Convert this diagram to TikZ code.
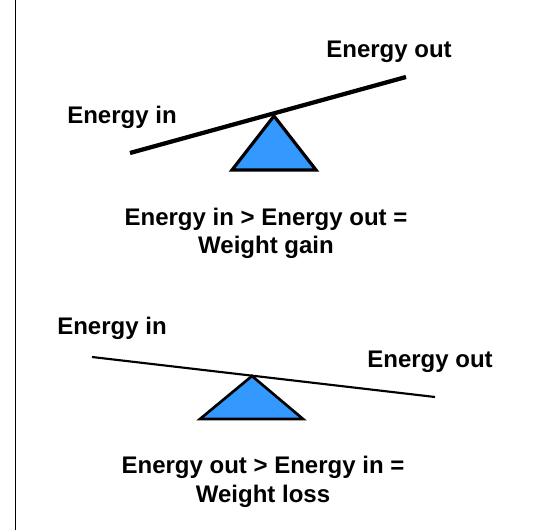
\documentclass[tikz,border=0pt]{standalone}
\usepackage{fontspec}
\setmainfont{Liberation Sans}
\usepackage{tikz}
\usetikzlibrary{positioning}
\definecolor{fulcrum}{HTML}{3399FF}
\definecolor{ink}{HTML}{000000}

\begin{document}
\begin{tikzpicture}[x=0.75pt, y=-0.75pt,
  every node/.style={font=\fontsize{18}{21}\selectfont\bfseries, text=ink, inner sep=0pt},
  label/.style={anchor=base},
  caption/.style={anchor=base, align=center}]
  \useasboundingbox (0,0) rectangle (535,530);
  \draw[ink, line width=0.8pt] (15.5,0) -- (15.5,530);

  % Gain
  \coordinate (gainL) at (130,153);
  \coordinate (gainR) at (406,77);
  \filldraw[fill=fulcrum, draw=ink, line width=2.4pt, line join=miter]
    (274,116) -- (316,170) -- (232,170) -- cycle;
  \draw[ink, line width=3.2pt] (gainL) -- (gainR);
  \node[label] (gainin) at (122,124) {Energy in};
  \node[label] (gainout) at (389,58) {Energy out};
  \node[caption] (gaincap) at (266,254) {Energy in > Energy out =\\Weight gain};

  % Loss
  \coordinate (lossL) at (92,357);
  \coordinate (lossR) at (435,397);
  \filldraw[fill=fulcrum, draw=ink, line width=2pt, line join=miter]
    (252,376) -- (303,419) -- (200,419) -- cycle;
  \draw[ink, line width=1.6pt] (lossL) -- (lossR);
  \node[label] (lossin) at (112,335) {Energy in};
  \node[label] (lossout) at (430,368) {Energy out};
  \node[caption] (losscap) at (263,502) {Energy out > Energy in =\\Weight loss};
\end{tikzpicture}
\end{document}
